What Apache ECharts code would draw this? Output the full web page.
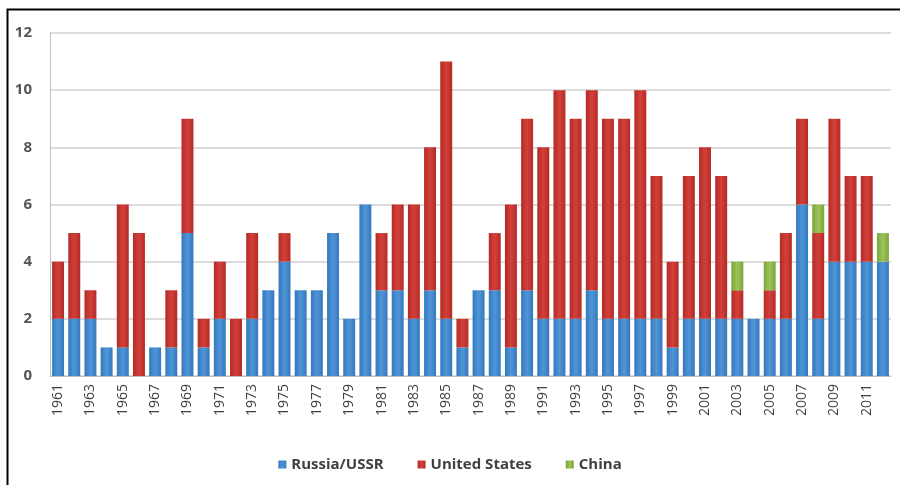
<!DOCTYPE html>
<html>
<head>
<meta charset="utf-8">
<script src="https://cdn.jsdelivr.net/npm/echarts@6/dist/echarts.min.js"></script>
<style>html,body{margin:0;padding:0;background:#fff}#c{width:900px;height:485px}</style>
</head>
<body>
<div id="c"></div>
<script>
var years = [];
for (var y = 1961; y <= 2012; y++) years.push(String(y));
var russia = [2,2,2,1,1,0,1,1,5,1,2,0,2,3,4,3,3,5,2,6,3,3,2,3,2,1,3,3,1,3,2,2,2,3,2,2,2,2,1,2,2,2,2,2,2,2,6,2,4,4,4,4];
var usa    = [2,3,1,0,5,5,0,2,4,1,2,2,3,0,1,0,0,0,0,0,2,3,4,5,9,1,0,2,5,6,6,8,7,7,7,7,8,5,3,5,6,5,1,0,1,3,3,3,5,3,3,0];
var china  = [0,0,0,0,0,0,0,0,0,0,0,0,0,0,0,0,0,0,0,0,0,0,0,0,0,0,0,0,0,0,0,0,0,0,0,0,0,0,0,0,0,0,1,0,1,0,0,1,0,0,0,1];
var yTicks = [0,2,4,6,8,10,12];

function grad(c1, c2) {
  return new echarts.graphic.LinearGradient(0,0,1,0,[{offset:0,color:c1},{offset:0.5,color:c2},{offset:1,color:c1}]);
}
var chart = echarts.init(document.getElementById('c'));
chart.setOption({
  animation: false,
  graphic: [{type:'rect', shape:{x:7.5,y:9.5,width:1000,height:1000}, style:{fill:'none',stroke:'#000',lineWidth:2}, silent:true}],
  grid: {left:50, right:9, top:33, bottom:109},
  legend: {
    top: 452, left: 'center', itemWidth: 8, itemHeight: 8, itemGap: 34,
    icon: 'rect',
    textStyle: {fontFamily:'Open Sans', fontWeight:'bold', fontSize:15, color:'#404040'},
    data: ['Russia/USSR','United States','China']
  },
  xAxis: {
    type:'category', data: years,
    axisTick:{show:false},
    axisLine:{lineStyle:{color:'#bfbfbf'}},
    axisLabel:{rotate:90, interval:1, fontFamily:'Open Sans', fontSize:14, color:'#404040', margin:8}
  },
  yAxis: {
    type:'value', min:0, max:12, interval:2,
    axisLine:{show:true, lineStyle:{color:'#bfbfbf'}},
    axisTick:{show:false},
    splitLine:{lineStyle:{color:'#d0d0d0', width:1.5}},
    axisLabel:{fontFamily:'Open Sans', fontWeight:'bold', fontSize:15, color:'#555', margin:18,
      formatter:function(v){return yTicks.indexOf(v)>=0?String(v):'';}}
  },
  series: [
    {name:'Russia/USSR', type:'bar', stack:'a', data:russia, barCategoryGap:'26%',
     itemStyle:{color:grad('#3478bd','#4f96d8')}},
    {name:'United States', type:'bar', stack:'a', data:usa,
     itemStyle:{color:grad('#b52b25','#d2403a')}},
    {name:'China', type:'bar', stack:'a', data:china,
     itemStyle:{color:grad('#7aa538','#9cc45a')}}
  ]
});
</script>
</body>
</html>
